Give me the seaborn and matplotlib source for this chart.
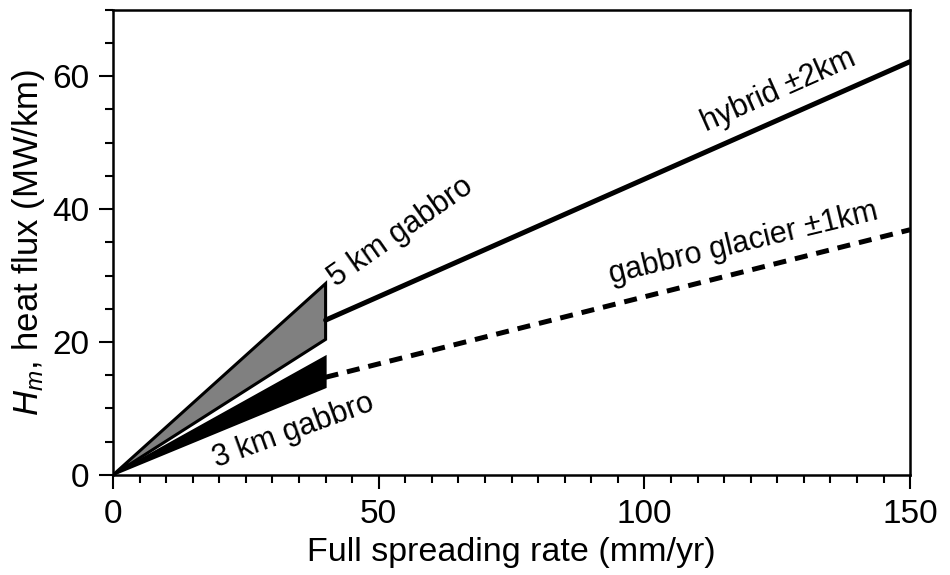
import matplotlib
matplotlib.use("Agg")
import matplotlib.pyplot as plt
import seaborn as sns
import pandas as pd
from matplotlib.ticker import MultipleLocator

# data
hybrid_x = [40, 150]
hybrid_y = [23.3, 62.2]
glacier_x = [40, 150]
glacier_y = [14.7, 36.9]
gabbro5_x = [0, 40, 40]
gabbro5_y = [0, 28.8, 20.4]
gabbro3_x = [0, 40, 40]
gabbro3_y = [0, 17.8, 13.2]

sns.set_theme(style="ticks")
plt.rcParams['font.family'] = ['Liberation Sans', 'DejaVu Sans']
plt.rcParams['mathtext.fontset'] = 'custom'
plt.rcParams['mathtext.it'] = 'Liberation Sans:italic'
plt.rcParams['mathtext.rm'] = 'Liberation Sans'
for k in ['text.color', 'axes.labelcolor', 'xtick.color', 'ytick.color', 'axes.edgecolor']:
    plt.rcParams[k] = 'black'

fig = plt.figure(figsize=(9.5, 5.75), dpi=100)
ax = fig.add_axes([0.119, 0.174, 0.839, 0.809])

ax.fill(gabbro5_x, gabbro5_y, facecolor='#808080', edgecolor='black', linewidth=2.2, joinstyle='miter')
ax.fill(gabbro3_x, gabbro3_y, facecolor='black', edgecolor='black', linewidth=1.5)

df_h = pd.DataFrame({'x': hybrid_x, 'y': hybrid_y})
df_g = pd.DataFrame({'x': glacier_x, 'y': glacier_y})
sns.lineplot(data=df_h, x='x', y='y', ax=ax, color='black', linewidth=3.6)
sns.lineplot(data=df_g, x='x', y='y', ax=ax, color='black', linewidth=3.6,
             linestyle=(0, (2.6, 1.8)))

ax.set_xlim(0, 150)
ax.set_ylim(0, 70)
ax.xaxis.set_major_locator(MultipleLocator(50))
ax.xaxis.set_minor_locator(MultipleLocator(5))
ax.yaxis.set_major_locator(MultipleLocator(20))
ax.yaxis.set_minor_locator(MultipleLocator(5))
ax.tick_params(which='major', direction='out', length=10, width=1.5, labelsize=24, color='black', pad=7)
ax.tick_params(which='minor', direction='out', length=5.5, width=1.5, color='black')
for s in ax.spines.values():
    s.set_linewidth(1.8)
    s.set_color('black')
    s.set_visible(True)

ax.set_xlabel('Full spreading rate (mm/yr)', fontsize=24.5, labelpad=5)
ax.set_ylabel('$H_m$, heat flux (MW/km)', fontsize=25, labelpad=4)

ax.text(42.0, 28.2, '5 km gabbro', rotation=35, rotation_mode='anchor', ha='left', va='baseline', fontsize=22)
ax.text(19.5, 1.2, '3 km gabbro', rotation=20, rotation_mode='anchor', ha='left', va='baseline', fontsize=22)
ax.text(111.6, 51.6, 'hybrid \u00b12km', rotation=24, rotation_mode='anchor', ha='left', va='baseline', fontsize=22)
ax.text(93.8, 28.8, 'gabbro glacier \u00b11km', rotation=13.5, rotation_mode='anchor', ha='left', va='baseline', fontsize=22)

fig.savefig('out.png', dpi=100)
